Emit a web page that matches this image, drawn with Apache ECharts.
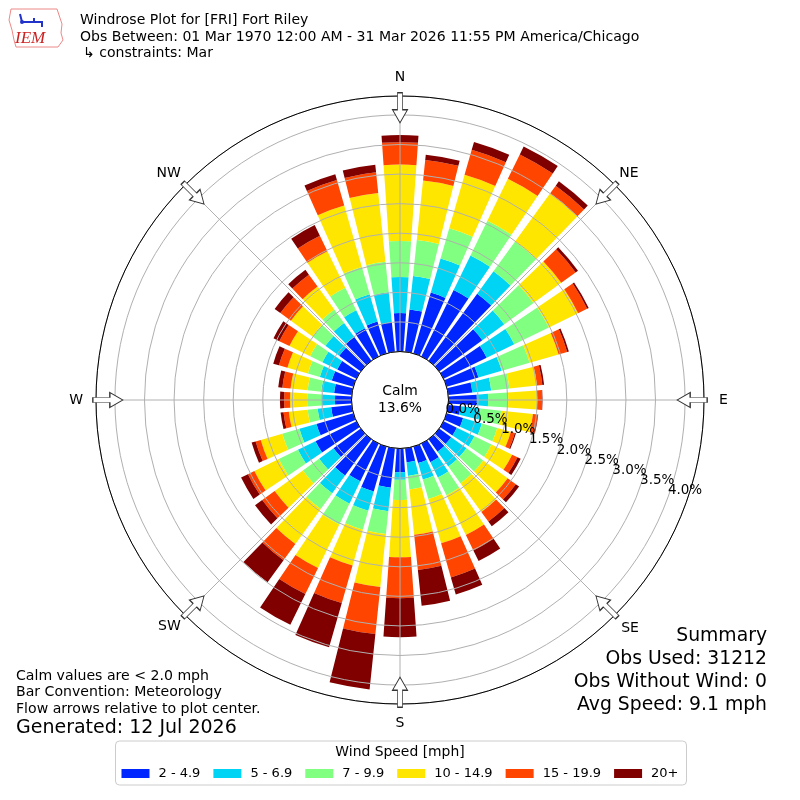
<!DOCTYPE html>
<html>
<head>
<meta charset="utf-8">
<script src="https://cdn.jsdelivr.net/npm/echarts@6/dist/echarts.min.js"></script>
<style>html,body{margin:0;padding:0;background:#fff}#c{width:800px;height:800px}</style>
</head>
<body>
<div id="c"></div>
<script>
// ---- data (percent of observations) ----
const directions = ['0','10','20','30','40','50','60','70','80','90','100','110','120','130','140','150','160','170',
  '180','190','200','210','220','230','240','250','260','270','280','290','300','310','320','330','340','350'];
const speedBins = ['2 - 4.9','5 - 6.9','7 - 9.9','10 - 14.9','15 - 19.9','20+'];
const bin2to5   = [0.65,0.72,1.07,1.25,1.40,0.90,0.81,0.56,0.41,0.48,0.21,0.29,0.25,0.25,0.26,0.35,0.29,0.24,0.40,0.67,0.79,0.71,0.76,0.57,0.77,0.65,0.35,0.28,0.30,0.38,0.36,0.45,0.50,0.53,0.56,0.50];
const bin5to7   = [0.61,0.57,0.60,0.65,0.47,0.46,0.52,0.41,0.32,0.19,0.34,0.33,0.33,0.32,0.31,0.29,0.29,0.23,0.13,0.40,0.34,0.42,0.37,0.30,0.33,0.30,0.23,0.22,0.22,0.21,0.28,0.29,0.29,0.34,0.48,0.51];
const bin7to10  = [0.61,0.61,0.53,0.65,0.62,0.61,0.65,0.49,0.31,0.34,0.35,0.27,0.32,0.35,0.35,0.33,0.34,0.23,0.34,0.39,0.33,0.39,0.33,0.34,0.36,0.30,0.17,0.25,0.23,0.21,0.23,0.27,0.28,0.42,0.48,0.52];
const bin10to15 = [1.29,1.01,0.94,0.79,1.01,0.58,0.55,0.51,0.47,0.49,0.54,0.24,0.39,0.51,0.60,0.75,0.78,0.77,0.97,0.90,0.63,0.82,0.73,0.59,0.46,0.38,0.32,0.29,0.29,0.36,0.39,0.45,0.48,0.69,1.08,1.17];
const bin15to20 = [0.38,0.35,0.44,0.46,0.16,0.30,0.17,0.15,0.09,0.08,0.08,0.07,0.10,0.17,0.20,0.29,0.60,0.60,0.69,0.80,0.66,0.49,0.34,0.26,0.12,0.09,0.09,0.10,0.14,0.15,0.19,0.22,0.25,0.29,0.45,0.35];
const bin20plus = [0.12,0.09,0.14,0.15,0.09,0.05,0.03,0.03,0.03,0.01,0.01,0.02,0.06,0.07,0.10,0.20,0.30,0.61,0.66,0.94,0.78,0.58,0.46,0.15,0.13,0.07,0.05,0.07,0.07,0.10,0.11,0.12,0.10,0.20,0.10,0.13];
const radiusMax = 4.32;
const radiusStep = 0.5;
const cardinalBearings = [0,45,90,135,180,225,270,315];
const cardinalNames = ['N','NE','E','SE','S','SW','W','NW'];
const arrowRadius = 4.12;
const calmPct = '13.6%';

const FONT = 'DejaVu Sans';
const COLORS = ['#0026ff','#00d4f5','#80ff80','#ffe600','#ff4500','#800000'];
const bins = [bin2to5, bin5to7, bin7to10, bin10to15, bin15to20, bin20plus];
const ARROW = 'path://M5,0 L10,0 L10,17 L15,17 L7.5,30 L0,17 L5,17 Z';

const chart = echarts.init(document.getElementById('c'), null, {renderer:'canvas', width:800, height:800});

const barSeries = speedBins.map((name, i) => ({
  name, type:'bar', coordinateSystem:'polar', polarIndex:0, stack:'wind',
  data: bins[i], barCategoryGap:'20%', itemStyle:{color:COLORS[i]}, z:2, silent:true
}));

function txt(text, x, y, size, align) {
  return {type:'text', silent:true, z:20, style:{text, x, y, fill:'#000',
    font: size + 'px "' + FONT + '"', align: align || 'left', verticalAlign:'middle'}};
}

const isStep = v => Math.abs(v/radiusStep - Math.round(v/radiusStep)) < 1e-6;
// main ring labels (the 0.0% one is drawn by the next axis so ECharts' min-label overlap check keeps 0.5%)
const ringLabel = v => (isStep(v) && v > 0) ? v.toFixed(1) + '%' : '';
const zeroLabel = v => (v === 0) ? v.toFixed(1) + '%' : '';

const cardinalRich = {
  n:{padding:[0,0,6,0]}, s:{padding:[6,0,0,0]},
  e:{padding:[0,0,0,9]}, w:{padding:[0,7,0,0]},
  ne:{}, se:{padding:[2,0,0,2]}, sw:{}, nw:{}
};
const ringLabelStyle = {show:true, showMinLabel:true, showMaxLabel:true, margin:0, align:'left', verticalAlign:'bottom',
  color:'#000', fontSize:13.5, fontFamily:FONT};

const option = {
  animation:false,
  backgroundColor:'#fff',
  polar:[
    {center:['50%','50%'], radius:[48.5,304]},
    {center:['50%','50%'], radius:[48.5,304]},
    {center:['50%','50%'], radius:[48.5,304]},
    {center:['50%','50%'], radius:[48.5,304]}
  ],
  angleAxis:[
    {polarIndex:0, type:'category', data:directions, startAngle:95, clockwise:true, boundaryGap:true, show:false},
    {polarIndex:1, type:'value', min:0, max:360, interval:45, startAngle:90, clockwise:true, z:4,
      axisLine:{show:true, lineStyle:{color:'#000', width:1}},
      axisTick:{show:false},
      splitLine:{show:true, lineStyle:{color:'#b0b0b0', width:1}},
      axisLabel:{show:true, margin:6, align:'center', verticalAlign:'middle', color:'#000', fontSize:14, fontFamily:FONT,
        rich:cardinalRich,
        formatter:v => { const k = cardinalBearings.indexOf(v); return (k >= 0 && v < 360) ? '{' + cardinalNames[k].toLowerCase() + '|' + cardinalNames[k] + '}' : ''; }}},
    {polarIndex:2, type:'value', min:0, max:360, startAngle:-20, clockwise:true, show:false},
    {polarIndex:3, type:'value', min:0, max:360, startAngle:-20, clockwise:true, show:false}
  ],
  radiusAxis:[
    {polarIndex:0, type:'value', min:0, max:radiusMax, show:false},
    {polarIndex:1, type:'value', min:0, max:radiusMax, interval:radiusStep, z:3,
      axisLine:{show:false}, axisTick:{show:false}, axisLabel:{show:false},
      splitLine:{show:true, lineStyle:{color:'#b0b0b0', width:1}}},
    {polarIndex:2, type:'value', min:0, max:radiusMax, interval:radiusStep, z:6,
      axisLine:{show:false}, axisTick:{show:false}, splitLine:{show:false},
      axisLabel:Object.assign({formatter:ringLabel}, ringLabelStyle)},
    {polarIndex:3, type:'value', min:0, max:radiusMax, interval:radiusStep, z:6,
      axisLine:{show:false}, axisTick:{show:false}, splitLine:{show:false},
      axisLabel:Object.assign({formatter:zeroLabel}, ringLabelStyle)}
  ],
  legend:{
    data:speedBins, left:'center', top:741, orient:'horizontal', icon:'rect',
    itemWidth:28, itemHeight:9, itemGap:13, selectedMode:false,
    borderColor:'#cccccc', borderWidth:1, borderRadius:4, padding:[26,8,5,6],
    textStyle:{fontSize:13, fontFamily:FONT, color:'#000', padding:[0,0,0,4]}
  },
  series: barSeries.concat([{
    type:'scatter', coordinateSystem:'polar', polarIndex:1, z:10, silent:true,
    symbol:ARROW, symbolSize:[15,30],
    itemStyle:{color:'#fff', borderColor:'#333', borderWidth:1, opacity:1},
    data: cardinalBearings.map(b => ({value:[arrowRadius, b], symbolRotate:-b}))
  }]),
  graphic:[
    // IEM logo (approximation)
    {type:'polyline', silent:true, shape:{points:[[11,9],[57,9],[59,15],[62,24],[61,33],[63,40],[58,47],[16,47],[14,40],[12,30],[9,20],[11,9]]},
      style:{stroke:'#e88', fill:'#fff', lineWidth:1}},
    {type:'polyline', silent:true, shape:{points:[[20,14],[22,22],[34,22],[34,18]]}, style:{stroke:'#2233cc', fill:null, lineWidth:2}},
    {type:'polyline', silent:true, shape:{points:[[34,22],[42,22],[42,27]]}, style:{stroke:'#2233cc', fill:null, lineWidth:2}},
    {type:'circle', silent:true, shape:{cx:22, cy:22, r:2}, style:{fill:'#2233cc'}},
    {type:'text', silent:true, style:{text:'IEM', x:15, y:39, fill:'#cc2222', font:'italic 17px "Liberation Serif"', align:'left', verticalAlign:'middle'}},
    // title
    txt('Windrose Plot for [FRI] Fort Riley', 80, 20, 14.05),
    txt('Obs Between: 01 Mar 1970 12:00 AM - 31 Mar 2026 11:55 PM America/Chicago', 80, 37, 14.05),
    txt('\u21b3 constraints: Mar', 83, 53, 14.05),
    // calm
    txt('Calm', 400, 391, 13.9, 'center'),
    txt(calmPct, 400, 408, 13.9, 'center'),
    // bottom left notes
    txt('Calm values are < 2.0 mph', 16, 676, 14.1),
    txt('Bar Convention: Meteorology', 16, 692.7, 14.1),
    txt('Flow arrows relative to plot center.', 16, 709.3, 14.1),
    txt('Generated: 12 Jul 2026', 16, 728.3, 19),
    // summary
    txt('Summary', 767, 636, 18.8, 'right'),
    txt('Obs Used: 31212', 767, 659, 18.8, 'right'),
    txt('Obs Without Wind: 0', 767, 682, 18.8, 'right'),
    txt('Avg Speed: 9.1 mph', 767, 705, 18.8, 'right'),
    // legend title
    txt('Wind Speed [mph]', 400, 752, 13.9, 'center')
  ]
};
chart.setOption(option);
</script>
</body>
</html>
